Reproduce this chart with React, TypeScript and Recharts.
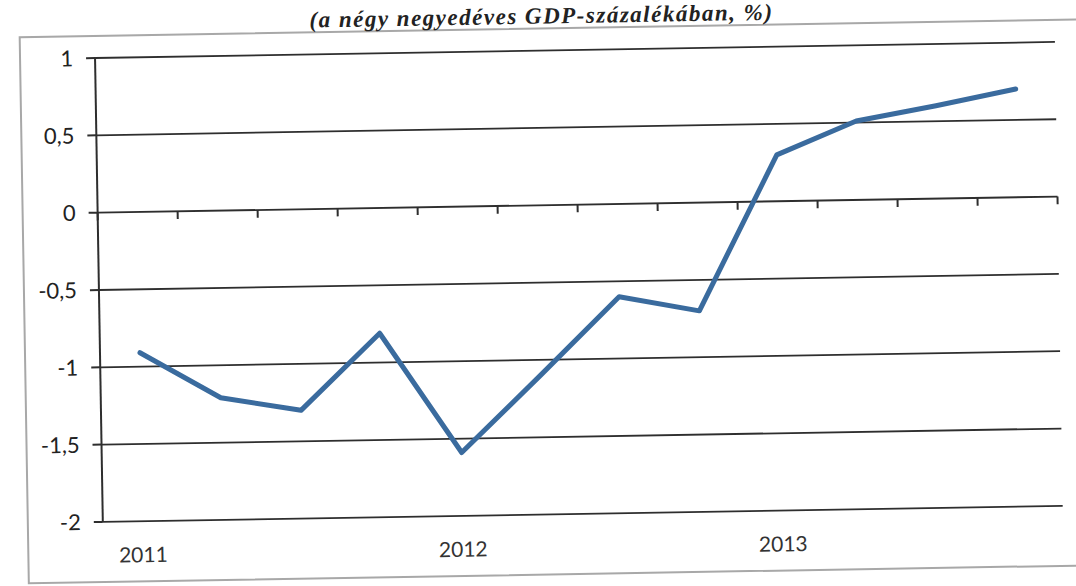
import { CartesianGrid, Line, LineChart, ReferenceLine, XAxis, YAxis } from "recharts";

const quarters = [
  "2011 I", "2011 II", "2011 III", "2011 IV",
  "2012 I", "2012 II", "2012 III", "2012 IV",
  "2013 I", "2013 II", "2013 III", "2013 IV",
];
const balance = [-0.91, -1.21, -1.3, -0.81, -1.59, -1.1, -0.6, -0.7, 0.3, 0.51, 0.6, 0.7];
const yearLabels = ["2011", "2012", "2013"];
const yearTicks = [0.5, 4.5, 8.5];
const yTicks = [-2, -1.5, -1, -0.5, 0, 0.5, 1];
const boundaries = [0, 1, 2, 3, 4, 5, 6, 7, 8, 9, 10, 11, 12];

const data = quarters.map((q, i) => ({ q, x: i + 0.5, value: balance[i] }));

const fmt = (v: number) => String(v).replace(".", ",");

export default function App() {
  return (
    <div
      style={{
        position: "absolute",
        left: 0,
        top: 0,
        width: 1076,
        height: 586,
        overflow: "hidden",
        background: "#fff",
      }}
    >
      <div
        style={{
          position: "absolute",
          left: 0,
          top: 0,
          width: 1076,
          height: 586,
          transform: "rotate(-0.96deg)",
          transformOrigin: "575px 290px",
        }}
      >
        <div
          style={{
            position: "absolute",
            left: 23,
            top: 27,
            width: 1100,
            height: 548,
            border: "2px solid #a8a8a8",
            boxSizing: "border-box",
          }}
        />
        <div
          style={{
            position: "absolute",
            left: 0,
            width: 1092,
            top: 4,
            textAlign: "center",
            fontFamily: "'Liberation Serif', serif",
            fontWeight: "bold",
            fontStyle: "italic",
            fontSize: 23,
            lineHeight: "24px",
            letterSpacing: 1.5,
            color: "#222",
          }}
        >
          (a négy negyedéves GDP-százalékában, %)
        </div>
        <div style={{ position: "absolute", left: 0, top: 0 }}>
          <LineChart
            width={1076}
            height={586}
            data={data}
            margin={{ top: 50, right: 17, bottom: 42, left: 0 }}
          >
            <CartesianGrid vertical={false} stroke="#2e2e2e" strokeWidth={1.8} />
            <XAxis
              type="number"
              dataKey="x"
              domain={[0, 12]}
              ticks={yearTicks}
              tickFormatter={(v: number) => yearLabels[yearTicks.indexOf(v)]}
              axisLine={false}
              tickLine={false}
              tickSize={0}
              tickMargin={26}
              height={30}
              tick={{ fontFamily: "Lato, sans-serif", fontSize: 21, fill: "#333" }}
            />
            <YAxis
              width={99}
              domain={[-2, 1]}
              ticks={yTicks}
              tickFormatter={fmt}
              axisLine={{ stroke: "#2e2e2e", strokeWidth: 2 }}
              tickLine={{ stroke: "#2e2e2e", strokeWidth: 2 }}
              tickSize={9}
              tickMargin={13}
              tick={{ fontFamily: "Lato, sans-serif", fontSize: 22, fill: "#222" }}
            />
            {boundaries.map((b) => (
              <ReferenceLine
                key={b}
                segment={[
                  { x: b, y: 0 },
                  { x: b, y: -0.05 },
                ]}
                stroke="#2e2e2e"
                strokeWidth={2}
              />
            ))}
            <Line
              type="linear"
              dataKey="value"
              stroke="#3a6b9e"
              strokeWidth={5}
              dot={false}
              strokeLinecap="round"
              strokeLinejoin="round"
              isAnimationActive={false}
            />
          </LineChart>
        </div>
      </div>
    </div>
  );
}
